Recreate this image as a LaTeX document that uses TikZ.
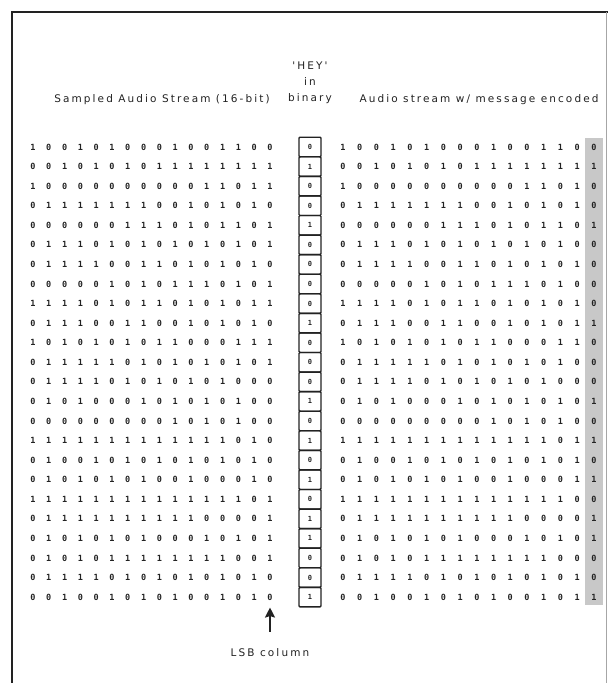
\documentclass[tikz,border=0pt]{standalone}
\usepackage{fontspec}
\usepackage{tikz}
\usetikzlibrary{arrows.meta}
\newfontfamily\hdrfont[LetterSpace=20]{DejaVu Sans}
\newfontfamily\bitfont{DejaVu Sans Mono}
\definecolor{inkgray}{RGB}{34,34,34}
\definecolor{lsbgray}{RGB}{200,200,200}

\begin{document}
\begin{tikzpicture}[x=1pt,y=-1pt,
    hdr/.style={font=\hdrfont\fontsize{10.5}{12}\selectfont,text=inkgray,inner sep=0pt,anchor=base},
    bit/.style={font=\bitfont\bfseries\fontsize{8.5}{8.5}\selectfont,text=inkgray,inner sep=0pt},
    msgcell/.style={draw=inkgray,line width=1.4pt,rounded corners=1pt,minimum width=22pt,
      minimum height=19.57pt,inner sep=0pt,font=\bitfont\bfseries\fontsize{7}{7}\selectfont,text=inkgray}]
  \useasboundingbox (0,0) rectangle (608,683);
  \draw[inkgray,line width=1.6pt] (12,683) -- (12,12) -- (608,12);
  \draw[gray!70,line width=0.6pt] (606,12) -- (606,683);
  \fill[lsbgray] (585,138) rectangle (603,605);

  \node[hdr] (lefthdr) at (162,102) {Sampled Audio Stream (16-bit)};
  \node[hdr] (hey) at (310,69) {'HEY'};
  \node[hdr] (heyin) at (310,85) {in};
  \node[hdr] (heybin) at (310,101) {binary};
  \node[hdr] (righthdr) at (479,102) {Audio stream w/ message encoded};

  \foreach \bits [count=\row] in {
    {1,0,0,1,0,1,0,0,0,1,0,0,1,1,0,0,0},
    {0,0,1,0,1,0,1,0,1,1,1,1,1,1,1,1,1},
    {1,0,0,0,0,0,0,0,0,0,0,1,1,0,1,1,0},
    {0,1,1,1,1,1,1,1,0,0,1,0,1,0,1,0,0},
    {0,0,0,0,0,0,1,1,1,0,1,0,1,1,0,1,1},
    {0,1,1,1,0,1,0,1,0,1,0,1,0,1,0,1,0},
    {0,1,1,1,1,0,0,1,1,0,1,0,1,0,1,0,0},
    {0,0,0,0,0,1,0,1,0,1,1,1,0,1,0,1,0},
    {1,1,1,1,0,1,0,1,1,0,1,0,1,0,1,1,0},
    {0,1,1,1,0,0,1,1,0,0,1,0,1,0,1,0,1},
    {1,0,1,0,1,0,1,0,1,1,0,0,0,1,1,1,0},
    {0,1,1,1,1,1,0,1,0,1,0,1,0,1,0,1,0},
    {0,1,1,1,1,0,1,0,1,0,1,0,1,0,0,0,0},
    {0,1,0,1,0,0,0,1,0,1,0,1,0,1,0,0,1},
    {0,0,0,0,0,0,0,0,0,1,0,1,0,1,0,0,0},
    {1,1,1,1,1,1,1,1,1,1,1,1,1,0,1,0,1},
    {0,1,0,0,1,0,1,0,1,0,1,0,1,0,1,0,0},
    {0,1,0,1,0,1,0,1,0,0,1,0,0,0,1,0,1},
    {1,1,1,1,1,1,1,1,1,1,1,1,1,1,0,1,0},
    {0,1,1,1,1,1,1,1,1,1,1,0,0,0,0,1,1},
    {0,1,0,1,0,1,0,1,0,0,0,1,0,1,0,1,1},
    {0,1,0,1,0,1,1,1,1,1,1,1,1,0,0,1,0},
    {0,1,1,1,1,0,1,0,1,0,1,0,1,0,1,0,0},
    {0,0,1,0,0,1,0,1,0,1,0,0,1,0,1,0,1}} {
    \pgfmathsetmacro\rowy{147+(\row-1)*19.57}
    \foreach \bval [count=\col] in \bits {
      \ifnum\col<17
        \node[bit] (L-\row-\col) at ({33+(\col-1)*15.8},\rowy) {\bval};
        \ifnum\col<16
          \node[bit] (R-\row-\col) at ({343+(\col-1)*16.73},\rowy) {\bval};
        \fi
      \else
        \node[msgcell] (M-\row) at (310,\rowy) {\bval};
        \node[bit] (R-\row-16) at (594,\rowy) {\bval};
      \fi
    }
  }

  \node[hdr] (lsb) at (270,656) {LSB column};
  \draw[inkgray,line width=1.9pt,-{Stealth[length=10pt,width=10pt,inset=1.5pt]},
    shorten <=16pt,shorten >=7pt] (lsb.north) -- (L-24-16.south);
\end{tikzpicture}
\end{document}
